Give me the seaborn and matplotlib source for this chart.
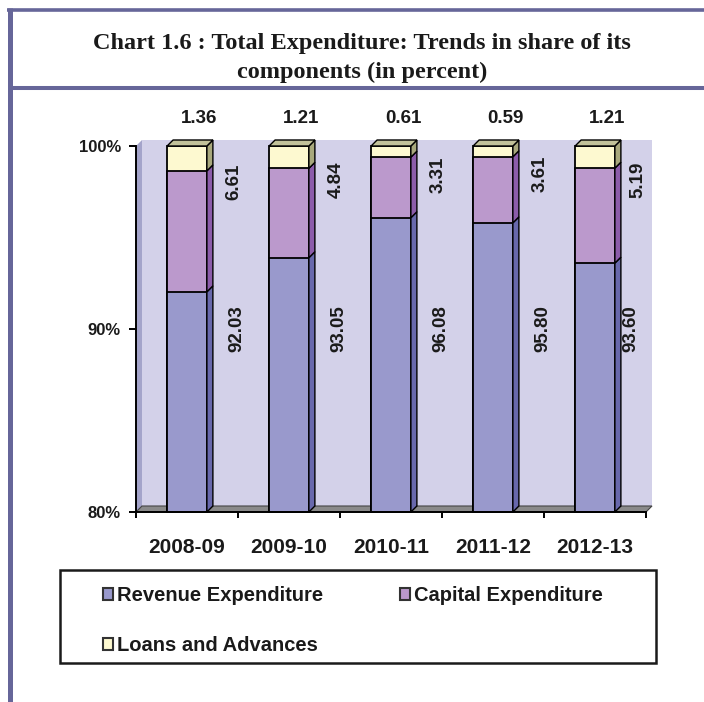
import numpy as np
import pandas as pd
import seaborn as sns
import matplotlib.pyplot as plt
from matplotlib.patches import Polygon, Rectangle, Patch
from matplotlib.lines import Line2D

# ---- data ----
years = ["2008-09", "2009-10", "2010-11", "2011-12", "2012-13"]
revenue = [92.03, 93.05, 96.08, 95.80, 93.60]
capital = [6.61, 4.84, 3.31, 3.61, 5.19]
loans = [1.36, 1.21, 0.61, 0.59, 1.21]
y_ticks = [80, 90, 100]
y_tick_labels = ["80%", "90%", "100%"]
series_names = ["Revenue Expenditure", "Capital Expenditure", "Loans and Advances"]
title_lines = ["Chart 1.6 : Total Expenditure: Trends in share of its",
               "components (in percent)"]

sns.set_theme(style="white")
plt.rcParams["font.family"] = ["Liberation Sans", "DejaVu Sans"]

W, H = 704, 702
PT = 72 / 100  # points per pixel at 100 dpi
fig = plt.figure(figsize=(W / 100, H / 100), dpi=100)
fig.patch.set_facecolor("white")

BORDER = "#666699"
TEXT = "#1a1a1a"

# frame lines around the title panel
fig.add_artist(Line2D([7 / W, 1], [1 - 9.5 / H] * 2, transform=fig.transFigure,
                      color=BORDER, lw=2.6, solid_capstyle="butt"))
fig.add_artist(Line2D([9.5 / W] * 2, [0, 1 - 8 / H], transform=fig.transFigure,
                      color=BORDER, lw=3.6, solid_capstyle="butt"))
fig.add_artist(Line2D([9 / W, 1], [1 - 88 / H] * 2, transform=fig.transFigure,
                      color=BORDER, lw=2.9, solid_capstyle="butt"))

for txt, yp in zip(title_lines, [44, 72]):
    fig.text(362 / W, 1 - yp / H, txt, ha="center", va="center", fontsize=17.5,
             fontweight="bold", family=["Liberation Serif", "DejaVu Serif"], color=TEXT)

ax = fig.add_axes([136 / W, 1 - 512 / H, 510 / W, 366 / H])
ax.set_facecolor("none")

# 100% stacked: each component as a share of the year's total
df = pd.DataFrame({"year": years, "rev": revenue, "cap": capital, "loan": loans})
tot = df["rev"] + df["cap"] + df["loan"]
df["rev_s"] = df["rev"] / tot * 100
df["rev_cap_s"] = (df["rev"] + df["cap"]) / tot * 100
df["total_s"] = tot / tot * 100

front = {"rev": "#9999CC", "cap": "#BB99CC", "loan": "#FDF9D0"}
side = {"rev": "#6868AC", "cap": "#8C5CAA", "loan": "#A8A87C"}
top_face = "#C2C29A"
bw = 0.39
y0 = 80

# stacked fronts: draw cumulative heights, tallest first
for col, key in [("total_s", "loan"), ("rev_cap_s", "cap"), ("rev_s", "rev")]:
    n_before = len(ax.patches)
    sns.barplot(data=df, x="year", y=col, color=front[key], saturation=1,
                width=bw, edgecolor="black", linewidth=1.3, errorbar=None,
                ax=ax, zorder=2)
    for p in ax.patches[n_before:]:
        top = p.get_y() + p.get_height()
        p.set_y(y0)
        p.set_height(top - y0)
        p.set_clip_on(False)

ax.set_xlim(-0.5, len(years) - 0.5)
ax.set_ylim(y0, 100)

# depth of the 3-D effect in data units (6 px each way)
dx = 6 / 102
dy = 6 / (366 / 20)

# back wall, side wall and floor
ax.add_patch(Rectangle((-0.5 + dx, y0 + dy), len(years), 100 - y0, fc="#D3D1E9",
                       ec="none", zorder=0, clip_on=False))
ax.add_patch(Polygon([(-0.5, y0), (-0.5 + dx, y0 + dy), (-0.5 + dx, 100 + dy), (-0.5, 100)],
                     closed=True, fc="#A4A4CA", ec="none", zorder=0.5, clip_on=False))
xe = len(years) - 0.5
ax.add_patch(Polygon([(-0.5, y0), (-0.5 + dx, y0 + dy), (xe + dx, y0 + dy), (xe, y0)],
                     closed=True, fc="#8A8A8A", ec="#444444", lw=0.8, zorder=0.6,
                     clip_on=False))

# bar sides and tops
for i in range(len(years)):
    xl, xr = i - bw / 2, i + bw / 2
    segs = [(y0, df["rev_s"][i], "rev"), (df["rev_s"][i], df["rev_cap_s"][i], "cap"),
            (df["rev_cap_s"][i], df["total_s"][i], "loan")]
    for a, b, key in segs:
        ax.add_patch(Polygon([(xr, a), (xr + dx, a + dy), (xr + dx, b + dy), (xr, b)],
                             closed=True, fc=side[key], ec="black", lw=1.0,
                             zorder=2.5, clip_on=False))
    T = df["total_s"][i]
    ax.add_patch(Polygon([(xl, T), (xl + dx, T + dy), (xr + dx, T + dy), (xr, T)],
                         closed=True, fc=top_face, ec="black", lw=1.0,
                         zorder=2.5, clip_on=False))

# value labels
lab_kw = dict(fontsize=13.5, fontweight="bold", color=TEXT, zorder=5)
for i in range(len(years)):
    ax.text(i + 0.12, 101.48, f"{loans[i]:.2f}", ha="center", va="center", **lab_kw)
    ax.text(min(i + 0.46, 4.42), (df["rev_cap_s"][i] + 97.5) / 2, f"{capital[i]:.2f}",
            rotation=90, ha="center", va="center", **lab_kw)
    ax.text(min(i + 0.49, 4.35), 90, f"{revenue[i]:.2f}",
            rotation=90, ha="center", va="center", **lab_kw)

# axes styling
sns.despine(ax=ax)
for s in ["left", "bottom"]:
    ax.spines[s].set_color("black")
    ax.spines[s].set_linewidth(1.4)
    ax.spines[s].set_zorder(3)
ax.set_yticks(y_ticks)
ax.set_yticklabels(y_tick_labels, fontsize=12, fontweight="bold", color=TEXT)
ax.tick_params(axis="y", direction="out", length=7 * PT, width=1.4, color="black",
               pad=8 * PT, left=True)
ax.set_xticks(np.arange(-0.5, len(years), 1), minor=True)
ax.set_xticklabels(years, fontsize=15, fontweight="bold", color=TEXT)
ax.tick_params(axis="x", which="major", length=0, pad=19)
ax.tick_params(axis="x", which="minor", direction="out", length=6 * PT, width=1.4,
               color="black", bottom=True)
ax.set_xlabel("")
ax.set_ylabel("")
ax.grid(False)

# legend
handles = [Patch(facecolor=front[k], edgecolor="#333333", linewidth=1.5)
           for k in ["rev", "loan", "cap"]]
labels = [series_names[0], series_names[2], series_names[1]]
fig.legend(handles, labels, ncol=2, loc="upper left",
           bbox_to_anchor=(103 / W, 1 - 586 / H), frameon=False, borderpad=0,
           borderaxespad=0, prop={"size": 14.5, "weight": "bold"},
           handlelength=0.5, handleheight=0.5, handletextpad=0.2,
           columnspacing=3.8, labelspacing=1.55, labelcolor=TEXT)
fig.add_artist(Rectangle((60 / W, 1 - 663 / H), 596 / W, 93 / H,
                         transform=fig.transFigure, fill=False, ec="#1a1a1a", lw=1.8))

fig.savefig("out.png", dpi=100)
